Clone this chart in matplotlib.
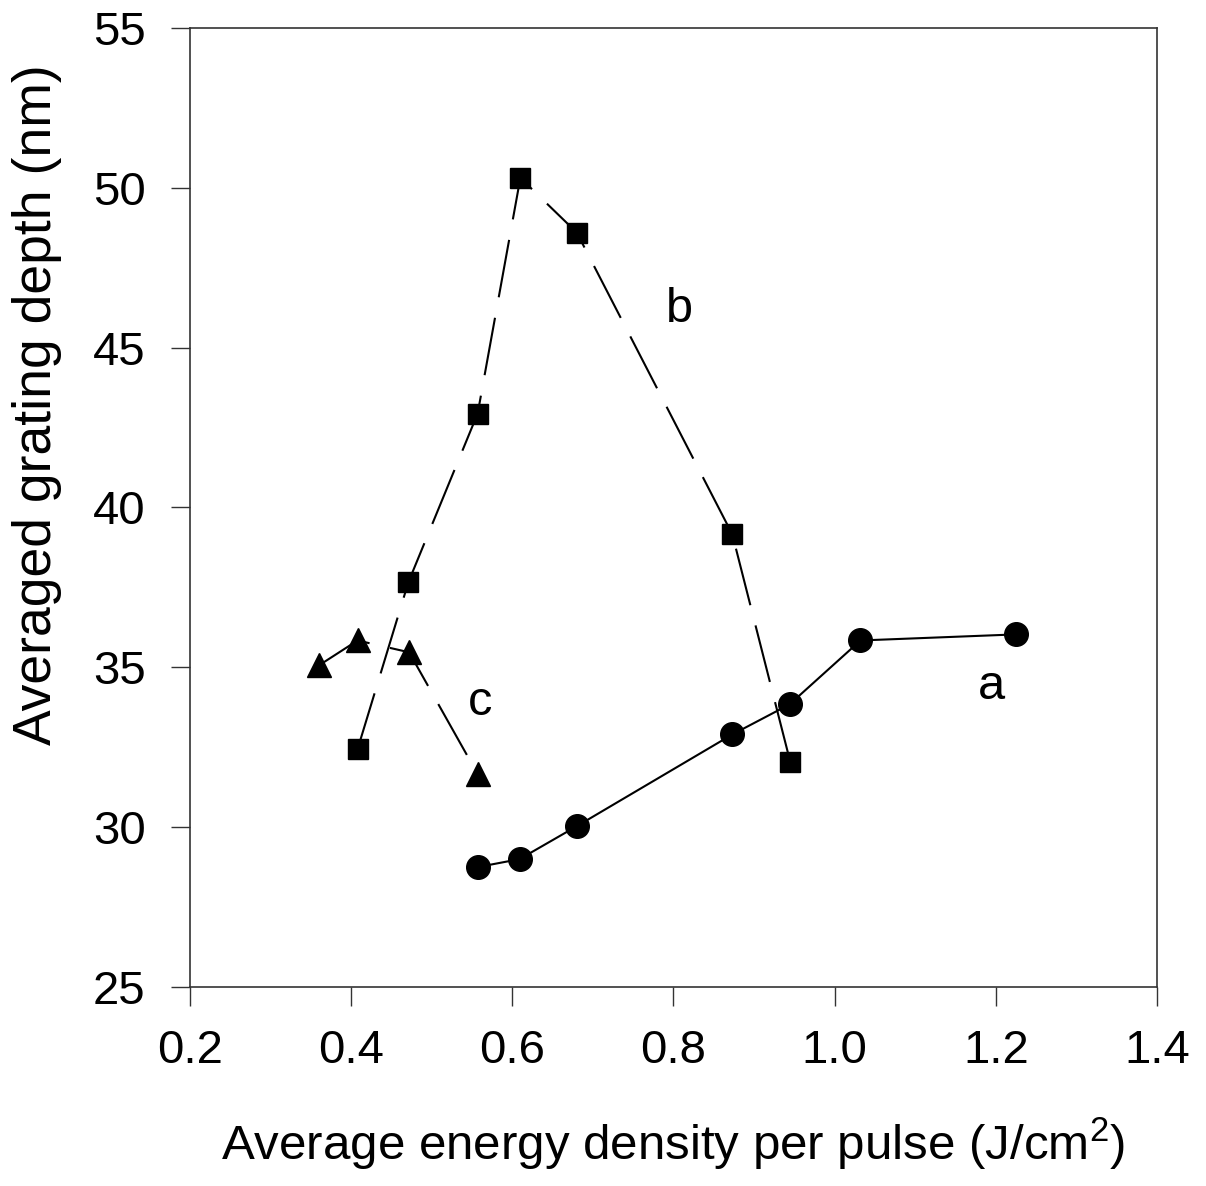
import matplotlib
matplotlib.use('Agg')
import matplotlib.pyplot as plt

plt.rcParams['font.family'] = ['Liberation Sans', 'DejaVu Sans']
plt.rcParams['mathtext.fontset'] = 'custom'
plt.rcParams['mathtext.rm'] = 'Liberation Sans'
plt.rcParams['mathtext.it'] = 'Liberation Sans'

# curve a (circles)
a_x = [0.557, 0.609, 0.680, 0.873, 0.944, 1.032, 1.225]
a_y = [28.75, 29.0, 30.03, 32.9, 33.84, 35.84, 36.03]
# curve b (squares)
b_x = [0.408, 0.471, 0.557, 0.610, 0.680, 0.873, 0.945]
b_y = [32.44, 37.66, 42.94, 50.31, 48.6, 39.16, 32.03]
# curve c (triangles)
c_x = [0.360, 0.408, 0.472, 0.557]
c_y = [35.06, 35.84, 35.47, 31.66]

xticks = [0.2, 0.4, 0.6, 0.8, 1.0, 1.2, 1.4]
yticks = [25, 30, 35, 40, 45, 50, 55]

fig = plt.figure(figsize=(12.06, 11.86), dpi=100)
ax = fig.add_axes([0.1575, 0.1678, 0.8019, 0.8086])

dash = (0, (28, 10))
ax.plot(a_x, a_y, color='black', lw=1.5, marker='o', ms=17, zorder=3)
ax.plot(b_x, b_y, color='black', lw=1.5, ls=dash, marker='s', ms=15, zorder=3)
ax.plot(c_x, c_y, color='black', lw=1.5, ls=dash, marker='^', ms=17, zorder=3)

# curve labels
ax.text(1.195, 34.4, 'a', fontsize=35, ha='center', va='center')
ax.text(0.807, 46.2, 'b', fontsize=35, ha='center', va='center')
ax.text(0.56, 33.9, 'c', fontsize=35, ha='center', va='center')

ax.set_xlim(0.2, 1.4)
ax.set_ylim(25, 55)
ax.set_xticks(xticks)
ax.set_xticklabels(['%.1f' % v for v in xticks])
ax.set_yticks(yticks)

for s in ax.spines.values():
    s.set_color('#333333')
    s.set_linewidth(1.2)

ax.tick_params(axis='both', direction='out', length=14, width=1, color='#333333',
               labelsize=34)
ax.tick_params(axis='y', pad=18)
ax.tick_params(axis='x', pad=16)

ax.set_xlabel('Average energy density per pulse (J/cm$^{2}$)', fontsize=35.5, va='center')
ax.xaxis.set_label_coords(0.5, -0.163)
ax.set_ylabel('Averaged grating depth (nm)', fontsize=38.5, va='center')
ax.yaxis.set_label_coords(-0.158, 0.607)

fig.savefig('out.png', dpi=100)
